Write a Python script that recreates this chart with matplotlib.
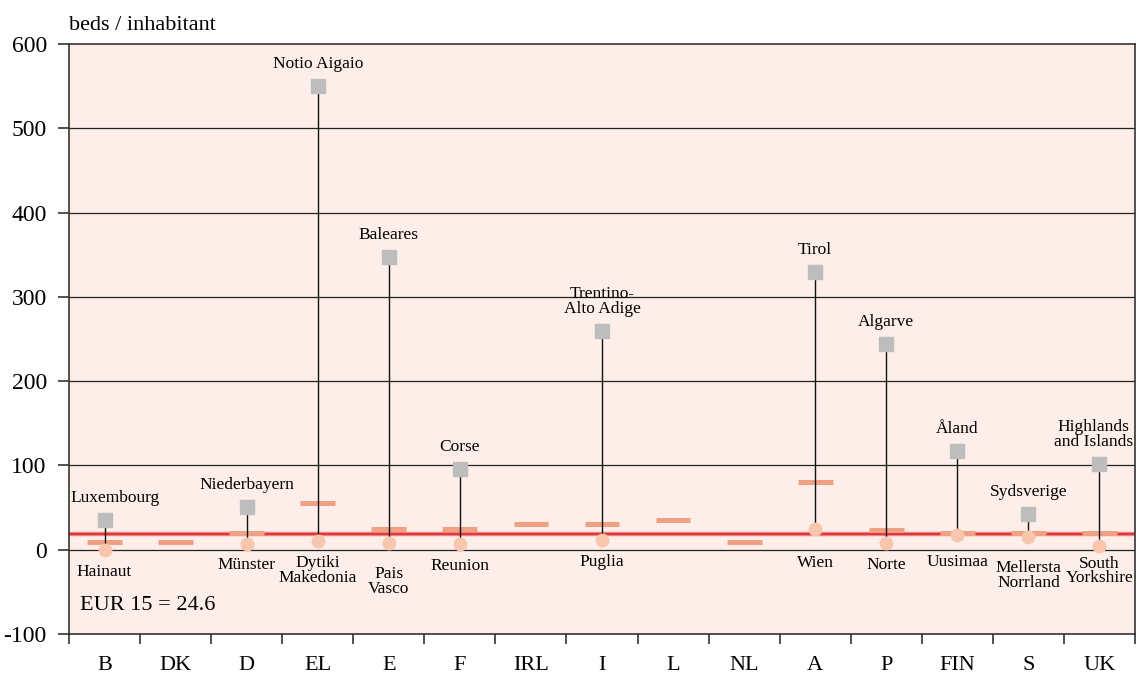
import matplotlib
matplotlib.use("Agg")
import matplotlib.pyplot as plt
import numpy as np

# ── Données ───────────────────────────────────────────────────────────────────

countries = ["B", "DK", "D", "EL", "E", "F", "IRL", "I", "L", "NL",
             "A", "P", "FIN", "S", "UK"]
country_avg = [9, 9, 20, 56, 25, 25, 30, 30, 35, 9, 80, 23, 20, 20, 20]

# régions extrêmes (pays à plusieurs régions seulement)
reg_country = ["B", "D", "EL", "E", "F", "I", "A", "P", "FIN", "S", "UK"]
max_value = [35, 51, 550, 347, 96, 260, 330, 244, 117, 42, 102]
max_label = ["Luxembourg", "Niederbayern", "Notio Aigaio", "Baleares", "Corse",
             "Trentino-\nAlto Adige", "Tirol", "Algarve", "Åland", "Sydsverige",
             "Highlands\nand Islands"]
min_value = [0, 7, 10, 8, 7, 12, 25, 8, 17, 15, 5]
min_label = ["Hainaut", "Münster", "Dytiki\nMakedonia", "Pais\nVasco", "Reunion",
             "Puglia", "Wien", "Norte", "Uusimaa", "Mellersta\nNorrland",
             "South\nYorkshire"]

eur_line = 18.5
eur_text = "EUR 15 = 24.6"

# ── Styles ────────────────────────────────────────────────────────────────────

BG = "#FDEEE9"
C_MAX = "#BDBDBD"
C_MIN = "#F8C6AD"
C_AVG = "#F0A184"
C_EUR = "#E0393C"
FRAME = "#333333"
SERIF = ["Liberation Serif", "DejaVu Serif"]

plt.rcParams["font.family"] = SERIF

# décalages des étiquettes (pixels)
min_dy = [23, 22, 23, 32, 23, 23, 35, 23, 28, 32, 19]
max_dx = {"Luxembourg": 11, "Highlands\nand Islands": -6}

fig = plt.figure(figsize=(11.36, 6.78), dpi=100)
ax = fig.add_axes([69 / 1136, 44 / 678, 1066 / 1136, 590 / 678])
ax.set_facecolor(BG)

pos = {c: i + 0.5 for i, c in enumerate(countries)}
x_reg = np.array([pos[c] for c in reg_country])

# grille horizontale
for yv in range(0, 600, 100):
    ax.axhline(yv, color="#222222", linewidth=0.9, zorder=1)

# moyenne EUR 15
ax.axhline(eur_line, color="#F08C8C", linewidth=3.2, zorder=2)
ax.axhline(eur_line, color=C_EUR, linewidth=1.6, zorder=2)

# moyennes nationales
xc = np.arange(len(countries)) + 0.5
ax.hlines(country_avg, xc - 0.245, xc + 0.245, color=C_AVG, linewidth=3.6, zorder=3)

# tiges min → max
ax.vlines(x_reg, min_value, max_value, color="#111111", linewidth=1.0, zorder=4)
ax.plot(x_reg, max_value, "s", color=C_MAX, markersize=9.5, zorder=5)
ax.plot(x_reg, min_value, "o", color=C_MIN, markersize=9, zorder=5)

for x, v, lab in zip(x_reg, max_value, max_label):
    ax.annotate(lab, (x, v), xytext=(max_dx.get(lab, 0), 14),
                textcoords="offset pixels", ha="center", va="bottom",
                fontsize=12.5, linespacing=0.9, zorder=6)

for x, v, lab, dy in zip(x_reg, min_value, min_label, min_dy):
    ax.annotate(lab, (x, v), xytext=(0, -(dy - 9)),
                textcoords="offset pixels", ha="center", va="top",
                fontsize=12.5, linespacing=0.9, zorder=6)

ax.text(11 / 1066, 29 / 590, eur_text, transform=ax.transAxes,
        fontsize=16, ha="left", va="center")

# axes
ax.set_xlim(0, len(countries))
ax.set_ylim(-100, 600)
ax.set_yticks(range(-100, 601, 100))
ax.set_yticklabels([str(v) for v in range(-100, 601, 100)], fontsize=17)
ax.set_xticks(xc)
ax.set_xticklabels(countries, fontsize=16)
ax.set_xticks(np.arange(0, len(countries) + 1), minor=True)
ax.tick_params(axis="x", which="major", length=0, pad=16)
ax.tick_params(axis="x", which="minor", length=7, width=1.2, color=FRAME)
ax.tick_params(axis="y", length=8, width=1.2, color=FRAME, pad=8)
for sp in ax.spines.values():
    sp.set_color(FRAME)
    sp.set_linewidth(1.2)

fig.text(69 / 1136, 1 - 25 / 678, "beds / inhabitant", fontsize=16,
         ha="left", va="center")

fig.savefig("out.png", dpi=100, facecolor="white")
